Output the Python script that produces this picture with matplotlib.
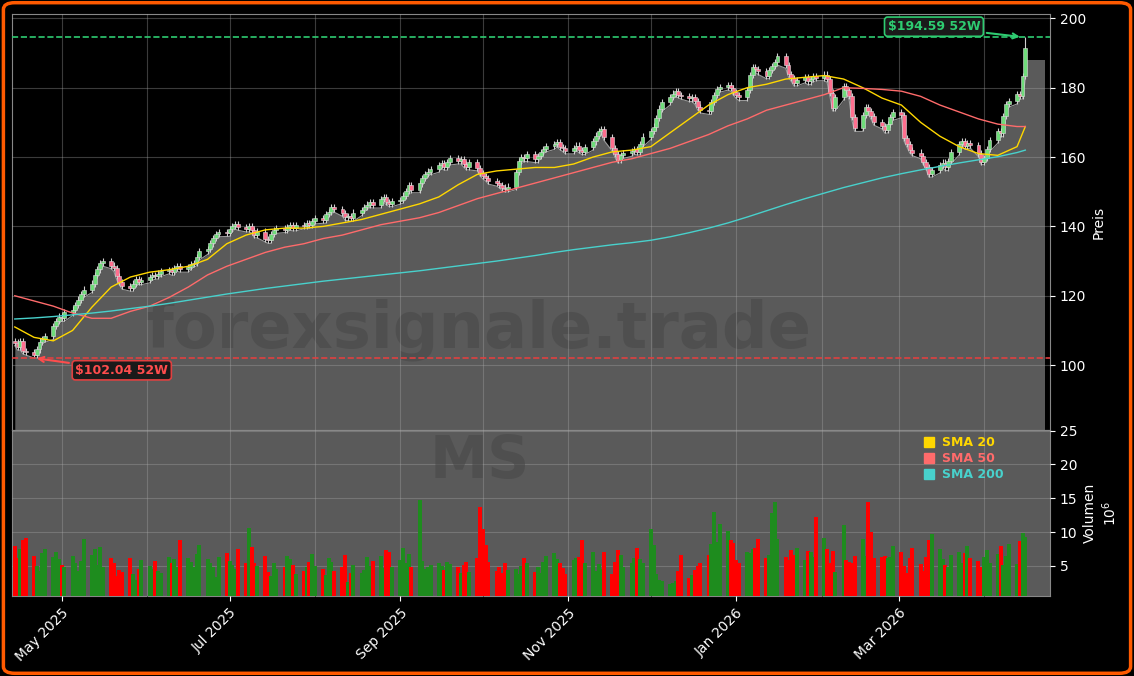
import numpy as np
import pandas as pd
import matplotlib
matplotlib.use("Agg")
import matplotlib.pyplot as plt
import matplotlib.dates as mdates
from matplotlib.lines import Line2D
from matplotlib.patches import FancyBboxPatch

closes = [
106.5,105.2,107.0,104.1,103.8,102.9,104.5,106.8,107.5,108.3,
111.2,112.8,114.0,113.5,115.2,116.0,117.3,118.9,120.4,121.8,
123.5,125.9,127.6,129.4,130.1,128.7,127.9,125.6,124.0,122.8,
122.2,123.5,124.8,124.1,124.6,125.3,126.0,125.7,126.4,127.2,
127.5,126.8,127.9,128.6,127.7,128.3,129.1,129.5,131.2,132.8,
133.4,135.1,136.6,137.9,138.4,138.0,139.2,140.1,140.6,139.8,
139.3,140.2,139.0,137.6,138.5,136.4,136.0,137.8,138.9,139.5,
139.1,139.8,140.3,139.6,140.5,140.2,141.0,140.4,141.6,142.3,
141.8,143.5,144.2,145.6,145.0,143.8,142.6,143.1,142.4,144.0,
144.8,145.7,146.3,147.0,146.2,147.8,148.5,147.1,146.6,147.3,
147.6,148.9,150.3,151.8,150.6,152.4,153.9,155.2,155.8,156.5,
157.6,158.2,157.1,158.6,159.7,158.9,159.4,158.0,157.2,158.5,
156.9,155.4,154.6,154.0,153.1,152.5,152.0,151.2,150.8,151.5,
155.6,158.9,160.1,159.6,160.8,159.3,160.2,161.5,162.4,163.1,
163.8,164.2,163.0,162.5,161.8,162.7,163.3,162.1,161.6,162.9,
164.5,166.2,167.4,168.1,165.7,162.6,160.8,159.2,160.5,161.1,
161.7,162.3,161.5,163.8,165.9,167.6,168.8,171.2,174.0,175.9,
177.4,178.3,179.1,178.0,177.6,176.9,177.3,176.1,174.5,173.6,
173.2,175.8,177.9,179.6,180.2,180.8,179.9,178.7,177.8,177.2,
179.4,183.6,186.0,185.3,184.7,183.5,185.1,186.2,187.4,189.2,
186.5,183.9,182.7,181.4,182.3,183.1,181.8,182.6,183.4,182.9,
183.8,182.5,178.6,174.2,177.3,180.4,179.2,177.5,171.6,168.3,
172.1,174.4,173.2,171.8,170.1,169.0,167.8,169.6,171.5,173.0,
172.2,165.4,163.8,162.1,161.3,160.4,158.6,157.2,155.1,156.3,
157.8,158.4,157.0,158.9,161.5,163.8,164.6,163.2,164.1,163.5,
161.0,158.7,159.8,162.4,164.9,167.6,166.8,171.9,175.3,176.2,
178.1,177.6,183.4,191.5]

volumes = [
8.0,6.2,7.5,8.8,9.1,6.4,5.0,4.2,6.9,7.5,
6.3,7.1,6.0,5.2,4.8,6.4,5.5,4.3,5.8,9.0,
6.6,7.5,5.1,7.8,4.9,6.2,5.5,3.5,4.4,4.1,
6.1,3.8,2.9,4.6,5.9,5.0,4.6,5.7,4.2,3.9,
6.3,5.4,6.0,4.8,8.8,6.1,5.6,4.9,6.7,8.1,
6.0,5.5,4.8,3.4,6.3,6.9,5.7,5.2,4.6,7.5,
5.5,10.6,7.8,5.5,5.0,6.4,4.1,3.5,5.4,4.6,
4.8,6.5,6.0,5.2,3.8,4.3,4.9,5.6,6.8,5.0,
4.5,3.7,6.2,5.6,4.3,4.8,6.6,2.6,4.0,5.1,
3.9,4.4,6.3,5.0,5.8,6.5,4.7,7.4,7.0,4.8,
5.9,7.6,5.5,6.8,4.9,14.8,5.7,4.6,4.9,5.2,
5.5,5.0,4.4,5.6,5.3,4.8,3.9,5.2,5.6,4.1,
6.1,13.7,10.5,8.1,5.6,4.2,4.8,3.9,5.5,4.4,
4.6,3.8,5.0,6.2,5.4,4.1,4.8,4.0,5.6,6.4,
6.9,6.0,5.4,4.7,3.8,5.9,6.1,6.3,8.9,5.5,
7.0,4.2,5.3,4.6,7.1,3.8,5.6,7.4,6.6,4.9,
5.4,6.2,7.6,6.0,5.5,10.5,8.1,3.8,2.9,2.7,
2.3,2.5,2.8,4.3,6.6,3.2,3.6,4.4,5.0,5.5,
6.6,8.2,12.9,8.6,11.2,10.2,8.8,8.4,5.9,5.4,
7.1,6.9,7.5,7.7,9.0,6.1,6.6,12.8,14.4,9.0,
6.3,5.9,7.3,6.6,7.7,5.9,7.2,7.0,6.3,12.3,
9.1,7.5,5.4,7.2,4.1,11.1,5.9,5.6,5.5,6.5,
9.0,6.5,14.5,10.0,6.1,6.3,6.4,6.2,6.3,7.9,
7.1,5.0,3.9,6.1,7.6,5.3,4.2,6.3,8.8,9.7,
7.5,6.0,5.2,4.8,6.6,7.1,5.4,6.9,8.0,6.2,
5.7,4.9,6.3,7.4,5.5,6.8,7.9,5.1,6.4,8.2,
5.3,8.7,9.8,9.3]

sma_idx = list(range(0, 261, 5)) + [263]
sma20 = [111,108,107,110,116.7,122.5,125.4,126.8,127.5,128.5,130.5,135,137.5,139,139.5,
         139.5,140,141,142,143.5,145,146.5,148.5,152,155,156,156.5,157,157,158,160,161.5,
         162,163,167,171,175,178,180,181,182.5,183,183.5,182.5,180,177,175,170,166,163,
         161,160.5,163,168.8]
sma50 = [120,118.5,117,115,113.5,113.5,115.5,117,119.5,122.5,126,128.5,130.5,132.5,134,135,
         136.5,137.5,139,140.5,141.5,142.5,144,146,148,149.5,151,152.5,154,155.5,157,158.5,
         159.5,161,162.5,164.5,166.5,169,171,173.5,175,176.5,178,180,179.8,179.5,179,177.5,
         175,173,171,169.5,168.8,168.8]
sma200 = [113.3,113.6,114,114.5,115,115.6,116.3,117,117.8,118.7,119.6,120.5,121.3,122.1,122.8,
          123.5,124.2,124.8,125.4,126,126.6,127.2,127.9,128.6,129.3,130,130.8,131.6,132.5,133.3,
          134,134.7,135.3,136,137,138.2,139.5,141,142.7,144.5,146.3,148,149.6,151.2,152.6,154,
          155.2,156.3,157.3,158.3,159.2,160.1,161.3,162]

low52 = 102.04
high52 = 194.59

dates = pd.bdate_range("2025-04-14", periods=len(closes))
dn = mdates.date2num(dates)
c = np.array(closes)
o = np.concatenate([[c[0] + 0.5], c[:-1]])
wick = 0.9
h = np.maximum(o, c) + wick
l = np.minimum(o, c) - wick
h[-1] = high52
l[int(np.argmin(c))] = low52
v = np.array(volumes)
up = c >= o

fig = plt.figure(figsize=(11.34, 6.76), dpi=100, facecolor="black")
axp = fig.add_axes([0.0106, 0.364, 0.9154, 0.615])
axv = fig.add_axes([0.0106, 0.1183, 0.9154, 0.2457], sharex=axp)

fill_col = "#5a5a5a"
axp.set_facecolor("black")
axv.set_facecolor(fill_col)

axp.fill_between(dn, l, 0, color=fill_col, zorder=1, lw=0)
axp.plot(dn, l, color="#9a9a9a", lw=0.8, zorder=1.5)
axp.fill_between([dn[-1], dn[-1] + 7], [188, 188], 0, color=fill_col, zorder=1, lw=0)

bw = 1.4
for i in range(len(c)):
    col = "#6fdc7a" if up[i] else "#ff6f8f"
    axp.vlines(dn[i], l[i], h[i], color="#cfcfcf", lw=0.8, zorder=3)
    axp.bar(dn[i], max(abs(c[i] - o[i]), 0.15), bottom=min(o[i], c[i]), width=bw,
            color=col, edgecolor="#dddddd", lw=0.4, zorder=4)

sd = dn[sma_idx]
axp.plot(sd, sma20, color="#ffd700", lw=1.0, zorder=5)
axp.plot(sd, sma50, color="#ff6b6b", lw=1.0, zorder=5)
axp.plot(sd, sma200, color="#48d1cc", lw=1.0, zorder=5)

axp.axhline(low52, color="#e04040", ls="--", lw=1.2, zorder=6)
axp.axhline(high52, color="#2ecc71", ls="--", lw=1.2, zorder=6)

axp.annotate(f"${low52:.2f} 52W", xy=(dn[int(np.argmin(c))], low52), xytext=(mdates.date2num(pd.Timestamp("2025-05-06")), 98.5),
             color="#ff4d4d", fontsize=9, fontweight="bold", ha="left", va="center",
             bbox=dict(boxstyle="round,pad=0.25", fc="#1a1a1a", ec="#e04040", lw=1.2),
             arrowprops=dict(arrowstyle="->", color="#ff4d4d", lw=1.5), zorder=8)
axp.annotate(f"${high52:.2f} 52W", xy=(dn[-1] - 1, high52), xytext=(mdates.date2num(pd.Timestamp("2026-02-25")), 197.6),
             color="#2ecc71", fontsize=9, fontweight="bold", ha="left", va="center",
             bbox=dict(boxstyle="round,pad=0.25", fc="#1a1a1a", ec="#2ecc71", lw=1.2),
             arrowprops=dict(arrowstyle="->", color="#2ecc71", lw=1.5), zorder=8)

axp.text(0.45, 0.24, "forexsignale.trade", transform=axp.transAxes, fontsize=46, fontweight="bold",
         color="#484848", alpha=0.6, ha="center", va="center", zorder=2)
fig.text(0.423, 0.317, "MS", fontsize=42, fontweight="bold", color="#484848", alpha=0.6,
         ha="center", va="center", zorder=10)

vcols = ["#1e8c1e" if u else "#ff0000" for u in up]
axv.bar(dn, v, width=1.45, color=vcols, zorder=3)

axp.set_ylim(81.3, 201.2)
axv.set_ylim(0.55, 25.1)
axp.set_xlim(mdates.date2num(pd.Timestamp("2025-04-13")), mdates.date2num(pd.Timestamp("2026-04-25")))

for ax in (axp, axv):
    ax.yaxis.tick_right()
    ax.yaxis.set_label_position("right")
    ax.tick_params(colors="white", labelsize=10)
    for s in ax.spines.values():
        s.set_color("#888888")
    ax.grid(True, which="both", color="#aaaaaa", alpha=0.35, lw=0.8)
    ax.set_axisbelow(False)

axp.set_yticks([100, 120, 140, 160, 180, 200])
axv.set_yticks([5, 10, 15, 20, 25])
axp.set_ylabel("Preis", color="white", fontsize=10)
axv.set_ylabel("Volumen\n$10^6$", color="white", fontsize=10)

axv.xaxis.set_major_locator(mdates.MonthLocator(bymonth=[1, 3, 5, 7, 9, 11]))
axv.xaxis.set_minor_locator(mdates.MonthLocator())
axv.xaxis.set_major_formatter(mdates.DateFormatter("%b %Y"))
plt.setp(axp.get_xticklabels(), visible=False)
axp.tick_params(axis="x", which="both", length=0)
for lab in axv.get_xticklabels():
    lab.set_rotation(45)
    lab.set_ha("right")
    lab.set_rotation_mode("anchor")

handles = [Line2D([], [], marker="s", ls="", color=cc, markersize=7) for cc in ("#ffd700", "#ff6b6b", "#48d1cc")]
leg = axv.legend(handles, ["SMA 20", "SMA 50", "SMA 200"], loc="upper left", bbox_to_anchor=(0.86, 1.03),
                 frameon=False, handletextpad=0.1, labelspacing=0.25, prop=dict(weight="bold", size=9))
for t, cc in zip(leg.get_texts(), ("#ffd700", "#ff6b6b", "#48d1cc")):
    t.set_color(cc)

border = FancyBboxPatch((0.003, 0.004), 0.994, 0.992, boxstyle="round,pad=0,rounding_size=0.01",
                        transform=fig.transFigure, fill=False, ec="#ff5a00", lw=2.5, zorder=20)
fig.patches.append(border)

fig.savefig("out.png", dpi=100, facecolor="black")
